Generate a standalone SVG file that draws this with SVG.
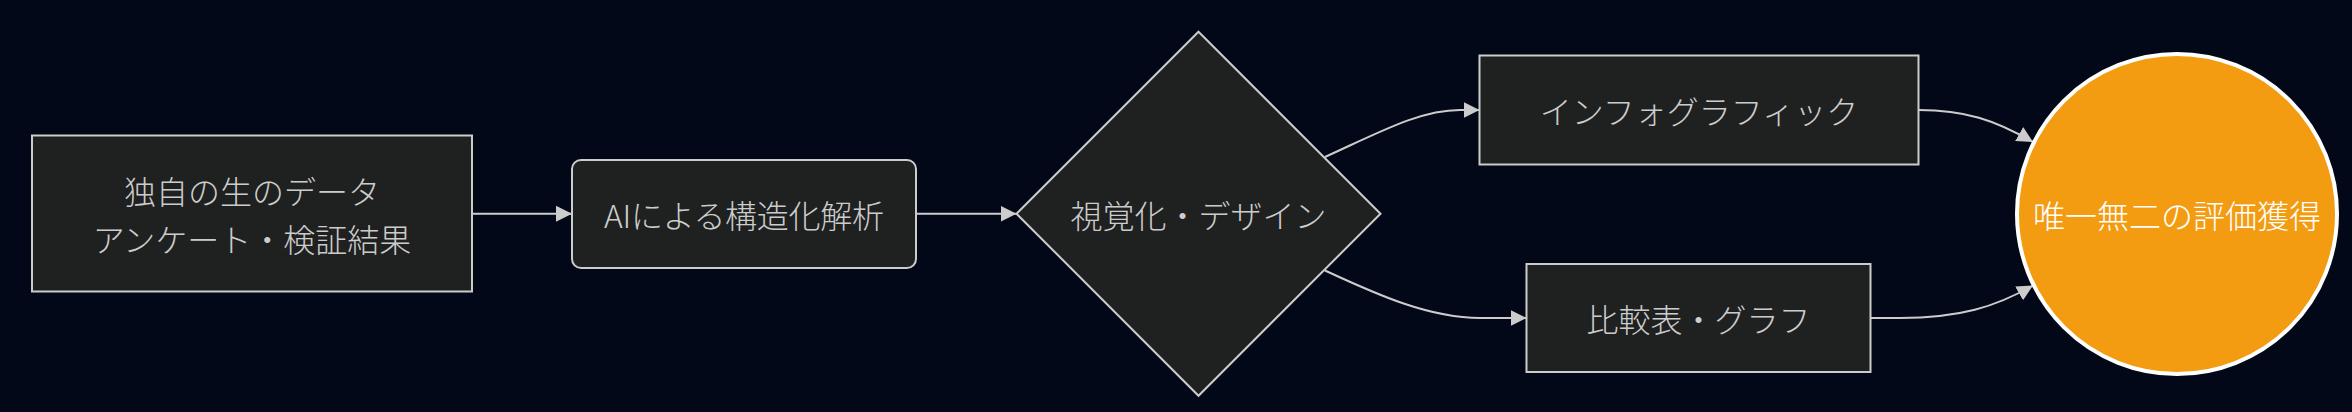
<svg xmlns="http://www.w3.org/2000/svg" width="2352" height="412" viewBox="0 0 2352 412">
<style>
.node rect, .node polygon { fill: #1f2020; stroke: #cccccc; stroke-width: 2; }
.lbl { font-family: "Noto Sans CJK JP", "Noto Sans", sans-serif; font-size: 32px; font-weight: 300; fill: #cccccc; text-anchor: middle; dominant-baseline: central; }
.edge { fill: none; stroke: #cccccc; stroke-width: 2; marker-end: url(#arrow); }
</style>
<defs>
<marker id="arrow" viewBox="0 0 10 10" refX="10" refY="5" markerUnits="userSpaceOnUse" markerWidth="16" markerHeight="16" orient="auto">
<path d="M0,0 L10,5 L0,10 z" fill="#cccccc"/>
</marker>
</defs>
<rect x="0" y="0" width="2352" height="412" fill="#020817"/>
<g id="connectors">
<path class="edge" d="M472,213.75 L572,213.75"/>
<path class="edge" d="M916,213.75 L1016.5,213.75"/>
<path class="edge" d="M1325,157 C1380,132 1420,110 1460,110 L1479.5,110"/>
<path class="edge" d="M1325,270.5 C1380,296 1430,318 1480,318 L1526.5,318"/>
<path class="edge" d="M1918.5,110 C1965,110 1995,120 2033,142"/>
<path class="edge" d="M1870.5,318 L1900,318 C1960,318 1995,307 2033,285.5"/>
</g>
<g id="node-data" class="node">
<rect x="32" y="135.5" width="440" height="156"/>
<text class="lbl" x="252" y="189.5">独自の生のデータ</text>
<text class="lbl" x="252" y="237.5">アンケート・検証結果</text>
</g>
<g id="node-ai" class="node">
<rect x="572" y="160" width="344" height="108" rx="9" ry="9"/>
<text class="lbl" x="744" y="214" textLength="280" lengthAdjust="spacing">AIによる構造化解析</text>
</g>
<g id="node-visual" class="node">
<polygon points="1198.5,31.75 1380.5,213.75 1198.5,395.75 1016.5,213.75"/>
<text class="lbl" x="1198.5" y="214">視覚化・デザイン</text>
</g>
<g id="node-info" class="node">
<rect x="1479.5" y="55.5" width="439" height="109"/>
<text class="lbl" x="1699" y="110">インフォグラフィック</text>
</g>
<g id="node-compare" class="node">
<rect x="1526.5" y="264" width="344" height="108"/>
<text class="lbl" x="1698.5" y="318">比較表・グラフ</text>
</g>
<g id="node-goal">
<circle cx="2177" cy="214" r="160" fill="#f39c12" stroke="#ffffff" stroke-width="4"/>
<text class="lbl" x="2177" y="214" style="fill:#ffffff">唯一無二の評価獲得</text>
</g>
</svg>
